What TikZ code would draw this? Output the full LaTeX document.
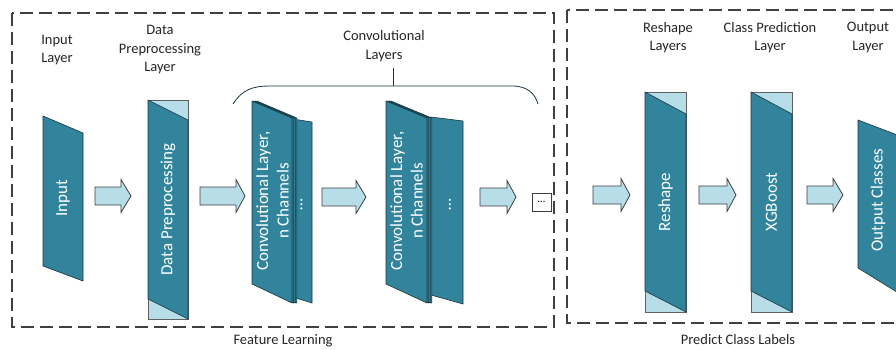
\documentclass[tikz,border=0pt]{standalone}
\usepackage{fontspec}
\setmainfont{Carlito}
\definecolor{tealA}{HTML}{31849B}
\definecolor{lightA}{HTML}{B7DEE8}
\definecolor{edgeA}{HTML}{1B3640}
\definecolor{dashA}{HTML}{3F3F3F}
\newcommand\blkarrow[4]{%
  \draw[barrow] (#1,#4-9) -- (#2,#4-9) -- (#2,#4-16.5) -- (#3,#4) -- (#2,#4+16.5) -- (#2,#4+9) -- (#1,#4+9) -- cycle;}
\begin{document}
\begin{tikzpicture}[x=1pt,y=-1pt,
  lbl/.style={font=\fontsize{14.5}{18.5}\selectfont, align=center, text=black!85, inner sep=0pt},
  intext/.style={font=\fontsize{17}{20.5}\selectfont, text=white, rotate=90, align=center, inner sep=0pt},
  tealshape/.style={fill=tealA, draw=edgeA, line width=0.6pt, line join=round},
  lightshape/.style={fill=lightA, draw=gray!75!black, line width=0.6pt},
  barrow/.style={fill=lightA, draw=dashA, line width=0.8pt, line join=miter},
  grp/.style={draw=dashA, line width=1.1pt, dash pattern=on 13pt off 6pt}]
\clip (0,0) rectangle (896,350);
\fill[white] (0,0) rectangle (896,350);

% group boxes
\draw[grp] (12,13) rectangle (554,327);
\draw[grp] (567,10) rectangle (930,323);
\node[lbl] (featlbl) at (283,341) {Feature Learning};
\node[lbl] (predlbl) at (738,340) {Predict Class Labels};

% top labels
\node[lbl] (l1) at (57,50) {Input\\Layer};
\node[lbl] (l2) at (160,50) {Data\\Preprocessing\\Layer};
\node[lbl] (l3) at (384,46) {Convolutional\\Layers};
\node[lbl] (l4) at (668,37.5) {Reshape\\Layers};
\node[lbl] (l5) at (770,37.5) {Class Prediction\\Layer};
\node[lbl] (l6) at (868,37.5) {Output\\Layer};

% input
\draw[tealshape] (43,116) -- (83,133) -- (83,281) -- (43,266) -- cycle;
\node[intext] (input) at (63,198) {Input};

% data preprocessing
\draw[lightshape] (148,100) rectangle (188,319);
\draw[tealshape] (148,100) -- (188,120) -- (188,319) -- (148,299) -- cycle;
\node[intext] (prep) at (168,209.5) {Data Preprocessing};

% conv layer 1
\draw[tealshape] (296,119.5) -- (312,122) -- (312,303) -- (296,298) -- cycle;
\foreach \d in {4.8,3.2,1.6}
  \draw[tealshape, xshift=\d] (252,101) -- (292,118) -- (292,303) -- (252,284) -- cycle;
\draw[tealshape] (252,101) -- (292,118) -- (292,303) -- (252,284) -- cycle;
\node[intext] (conv1) at (272.5,201) {Convolutional Layer,\\n Channels};
\node[intext] (dots1) at (301.5,205) {…};

% conv layer 2
\draw[tealshape] (431,117) -- (463,121) -- (463,304) -- (431,295) -- cycle;
\foreach \d in {4.8,3.2,1.6}
  \draw[tealshape, xshift=\d] (386,101) -- (427,118) -- (427,303) -- (386,284) -- cycle;
\draw[tealshape] (386,101) -- (427,118) -- (427,303) -- (386,284) -- cycle;
\node[intext] (conv2) at (406.5,201) {Convolutional Layer,\\n Channels};
\node[intext] (dots2) at (450,205) {…};

% brace over conv layers
\draw[edgeA, line width=0.8pt] (233,104) .. controls (242,90) and (252,86) .. (270,86)
  -- (512,86) .. controls (528,86) and (535,94) .. (538,104);
\draw[edgeA, line width=0.8pt] (393,86) -- (393,68);

% ellipsis box
\node[draw=dashA, line width=0.8pt, fill=white, minimum width=19pt, minimum height=18pt, inner sep=0pt,
  font=\fontsize{11}{12}\selectfont] (more) at (541.5,202) {…};

% reshape
\draw[lightshape] (645,92) rectangle (686,312);
\draw[tealshape] (645,92) -- (686,114) -- (686,312) -- (645,291) -- cycle;
\node[intext] (reshape) at (665.5,202) {Reshape};

% xgboost
\draw[lightshape] (751,92) rectangle (792,312);
\draw[tealshape] (751,92) -- (792,114) -- (792,312) -- (751,291) -- cycle;
\node[intext] (xgb) at (771.5,202) {XGBoost};

% output
\draw[tealshape] (858,120) -- (900,136) -- (900,294) -- (858,268) -- cycle;
\node[intext] (out) at (878,200) {Output Classes};

% block arrows
\blkarrow{95}{121}{131}{196}
\blkarrow{200}{236}{245}{196}
\blkarrow{322}{356}{366}{197}
\blkarrow{480}{507}{516}{197}
\blkarrow{593}{621}{630}{195}
\blkarrow{699}{727}{736}{195}
\blkarrow{807}{833}{843}{195}
\end{tikzpicture}
\end{document}
